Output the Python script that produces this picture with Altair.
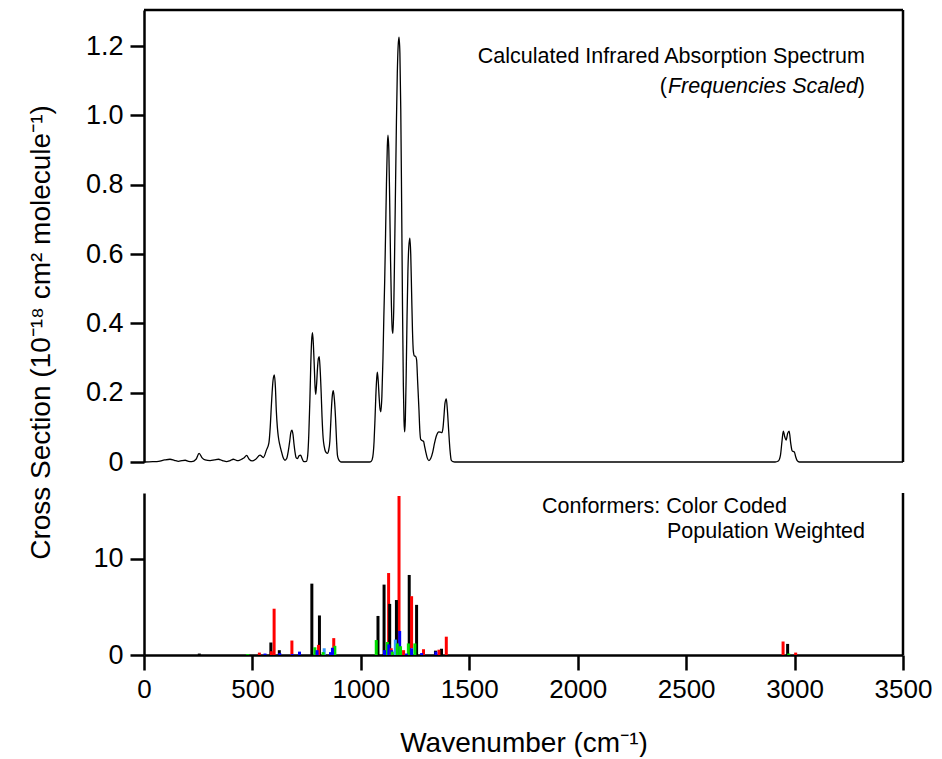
import altair as alt
import pandas as pd

# ---------------- data ----------------
spec_wn = [0, 40, 67, 95, 120, 140, 159, 175, 190, 205, 220, 240, 254, 268, 282, 305, 325, 343, 362, 381,
           397, 412, 425, 435, 450, 462, 473, 485, 499, 515, 535, 550, 565, 576, 582, 588, 595, 601, 606, 610,
           615, 619, 626, 634, 642, 650, 658, 665, 672, 677, 682, 687, 692, 696, 702, 708, 715, 722, 729, 737,
           749, 755, 760, 765, 769, 773, 777, 781, 785, 789, 792, 796, 800, 804, 808, 812, 817, 821, 826, 831,
           837, 846, 852, 857, 861, 864, 869, 873, 878, 883, 888, 892, 897, 903, 910, 1040, 1048, 1055, 1061, 1065,
           1069, 1073, 1076, 1080, 1084, 1088, 1092, 1097, 1102, 1106, 1110, 1114, 1118, 1122, 1125, 1129, 1133, 1137, 1141, 1145,
           1148, 1152, 1156, 1160, 1164, 1168, 1172, 1176, 1180, 1184, 1188, 1192, 1196, 1199, 1202, 1205, 1209, 1213, 1217, 1221,
           1226, 1230, 1234, 1238, 1242, 1247, 1252, 1257, 1262, 1268, 1272, 1276, 1282, 1289, 1294, 1299, 1306, 1314, 1322, 1332,
           1340, 1348, 1355, 1360, 1367, 1374, 1379, 1383, 1388, 1394, 1399, 1405, 1411, 1417, 1425, 1433, 2910, 2925, 2935, 2942,
           2948, 2955, 2961, 2968, 2975, 2982, 2989, 2995, 2999, 3005, 3012, 3022, 3500]
spec_val = [0, 0.001, 0.002, 0.006, 0.008, 0.005, 0.002, 0.004, 0.005, 0.002, 0.001, 0.008, 0.025, 0.012, 0.006, 0.004, 0.006, 0.008, 0.004, 0.001,
            0.004, 0.008, 0.005, 0.004, 0.008, 0.012, 0.019, 0.008, 0.003, 0.008, 0.02, 0.013, 0.035, 0.055, 0.1, 0.17, 0.235, 0.251, 0.215, 0.15,
            0.1, 0.075, 0.05, 0.03, 0.012, 0.005, 0.01, 0.03, 0.06, 0.085, 0.092, 0.08, 0.05, 0.03, 0.012, 0.01, 0.018, 0.02, 0.01, 0.001,
            0.002, 0.02, 0.08, 0.18, 0.28, 0.35, 0.373, 0.34, 0.28, 0.215, 0.195, 0.225, 0.27, 0.298, 0.304, 0.27, 0.2, 0.13, 0.07, 0.045,
            0.03, 0.025, 0.035, 0.06, 0.11, 0.15, 0.195, 0.206, 0.18, 0.13, 0.06, 0.02, 0.008, 0.002, 0, 0, 0.002, 0.015, 0.06, 0.12,
            0.19, 0.24, 0.259, 0.235, 0.19, 0.155, 0.145, 0.19, 0.3, 0.42, 0.525, 0.66, 0.8, 0.91, 0.943, 0.9, 0.75, 0.58, 0.45, 0.38,
            0.371, 0.45, 0.62, 0.8, 0.98, 1.12, 1.2, 1.226, 1.18, 1.02, 0.75, 0.45, 0.22, 0.12, 0.087, 0.12, 0.25, 0.42, 0.55, 0.62,
            0.646, 0.6, 0.49, 0.38, 0.32, 0.306, 0.305, 0.295, 0.23, 0.15, 0.09, 0.065, 0.062, 0.06, 0.045, 0.03, 0.012, 0.004, 0.01, 0.03,
            0.055, 0.075, 0.085, 0.087, 0.086, 0.085, 0.1, 0.13, 0.17, 0.182, 0.15, 0.09, 0.035, 0.005, 0.001, 0, 0, 0.003, 0.02, 0.06,
            0.089, 0.072, 0.063, 0.082, 0.089, 0.055, 0.032, 0.03, 0.029, 0.015, 0.004, 0, 0]

black_wn = [255, 585, 624, 774, 809, 1079, 1107, 1133, 1164, 1223, 1257, 1344, 1372, 2968]
black_val = [0.15, 1.3, 0.5, 7.4, 4.1, 4.05, 7.3, 5.3, 5.7, 8.3, 5.2, 0.45, 0.65, 1.15]
red_wn = [532, 587, 600, 682, 805, 875, 1128, 1140, 1176, 1197, 1234, 1289, 1360, 1394, 2947, 3005]
red_val = [0.25, 0.4, 4.8, 1.5, 1.05, 1.75, 8.5, 0.7, 16.5, 0.5, 5.4, 0.6, 0.55, 1.9, 1.4, 0.25]
green_wn = [478, 788, 826, 880, 1071, 1122, 1145, 1168, 1183, 1219, 1249, 2973]
green_val = [0.1, 0.8, 0.3, 0.95, 1.55, 1.35, 0.35, 1.2, 0.9, 1.2, 1.2, 0.15]
blue_wn = [558, 626, 684, 717, 798, 860, 869, 1109, 1129, 1142, 1179, 1210, 1234, 1280, 1346]
blue_val = [0.15, 0.2, 0.1, 0.35, 0.5, 0.3, 0.75, 0.5, 1.1, 0.5, 2.5, 0.15, 0.7, 0.2, 0.35]
lblue_wn = [831, 1159]
lblue_val = [0.7, 1.6]

conf_names = ["Conformer 1", "Conformer 2", "Conformer 3", "Conformer 4", "Conformer 5"]
conf_colors = ["#000000", "#ff0000", "#00dd00", "#0000ff", "#3399ff"]

x_ticks = [0, 500, 1000, 1500, 2000, 2500, 3000, 3500]
top_ticks = [0, 0.2, 0.4, 0.6, 0.8, 1.0, 1.2]
bottom_ticks = [0, 10]

# ---------------- build tables ----------------
spec = pd.DataFrame({"wn": spec_wn, "val": spec_val})
rows = []
for name, wns, vals in zip(conf_names,
                           [black_wn, red_wn, green_wn, blue_wn, lblue_wn],
                           [black_val, red_val, green_val, blue_val, lblue_val]):
    for w, v in zip(wns, vals):
        rows.append({"wn": w, "val": v, "conf": name})
bars = pd.DataFrame(rows).sort_values("val", ascending=False).reset_index(drop=True)
one = pd.DataFrame({"a": [0]})

W, H1, H2 = 759, 452, 162
FONT = "Liberation Sans"
x_scale = alt.Scale(domain=[0, 3500], nice=False, zero=False, padding=0)

axis_common = dict(domainColor="black", domainWidth=2.5, tickColor="black", tickWidth=2.5,
                   labelColor="black", labelFont=FONT, labelFontSize=27, labelFlush=False,
                   titleColor="black", titleFont=FONT, titleFontSize=28, titleFontWeight="normal",
                   grid=False)

# ---------------- top panel ----------------
line = alt.Chart(spec).mark_line(color="black", strokeWidth=1.3, interpolate="monotone").encode(
    x=alt.X("wn:Q", scale=x_scale, axis=None),
    y=alt.Y("val:Q", scale=alt.Scale(domain=[0, 1.304], nice=False, padding=0),
            axis=alt.Axis(values=top_ticks, tickSize=14, labelPadding=7,
                          labelExpr="datum.value == 0 ? '0' : format(datum.value, '.1f')",
                          title="Cross Section (10⁻¹⁸ cm² molecule⁻¹)",
                          titleX=-95, titleY=322, titleAngle=270, titleBaseline="alphabetic",
                          titleAlign="center", **axis_common)),
)
top_rule = alt.Chart(one).mark_rule(color="black", strokeWidth=2.5).encode(
    x=alt.value(0), x2=alt.value(W), y=alt.value(0))
right_rule1 = alt.Chart(one).mark_rule(color="black", strokeWidth=2.5).encode(
    x=alt.value(W), y=alt.value(0), y2=alt.value(H1))
t1 = alt.Chart(one).mark_text(font=FONT, fontSize=21.5, align="right", baseline="alphabetic", color="black").encode(
    x=alt.value(721), y=alt.value(53), text=alt.value("Calculated Infrared Absorption Spectrum"))
t2a = alt.Chart(one).mark_text(font=FONT, fontSize=21.5, align="right", baseline="alphabetic", color="black").encode(
    x=alt.value(721), y=alt.value(83), text=alt.value(")"))
t2b = alt.Chart(one).mark_text(font=FONT, fontSize=21.5, fontStyle="italic", align="right", baseline="alphabetic", color="black").encode(
    x=alt.value(714), y=alt.value(83), text=alt.value("Frequencies Scaled"))
t2c = alt.Chart(one).mark_text(font=FONT, fontSize=21.5, align="right", baseline="alphabetic", color="black").encode(
    x=alt.value(523), y=alt.value(83), text=alt.value("("))

top = alt.layer(line, top_rule, right_rule1, t1, t2a, t2b, t2c).properties(width=W, height=H1)

# ---------------- bottom panel ----------------
bar = alt.Chart(bars).mark_bar(size=3).encode(
    x=alt.X("wn:Q", scale=x_scale,
            axis=alt.Axis(values=x_ticks, tickSize=15, labelPadding=6, format="d",
                          title="Wavenumber (cm⁻¹)", titlePadding=27,
                          **{**axis_common, "labelFontSize": 26})),
    y=alt.Y("val:Q", scale=alt.Scale(domain=[0, 16.8], nice=False, padding=0),
            axis=alt.Axis(values=bottom_ticks, tickSize=14, labelPadding=7, title=None, **axis_common)),
    color=alt.Color("conf:N", scale=alt.Scale(domain=conf_names, range=conf_colors), legend=None),
)
right_rule2 = alt.Chart(one).mark_rule(color="black", strokeWidth=2.5).encode(
    x=alt.value(W), y=alt.value(0), y2=alt.value(H2))
b1 = alt.Chart(one).mark_text(font=FONT, fontSize=21.5, align="left", baseline="alphabetic", color="black").encode(
    x=alt.value(398), y=alt.value(20), text=alt.value("Conformers: Color Coded"))
b2 = alt.Chart(one).mark_text(font=FONT, fontSize=21.5, align="left", baseline="alphabetic", color="black").encode(
    x=alt.value(523), y=alt.value(45), text=alt.value("Population Weighted"))

bottom = alt.layer(bar, right_rule2, b1, b2).properties(width=W, height=H2)

chart = alt.vconcat(top, bottom, spacing=31, bounds="flush").properties(
    padding={"left": 19, "top": 0, "right": 0, "bottom": 0},
    background="white",
).configure_view(stroke=None)

chart.save("out.html", embed_options={"renderer": "svg", "actions": False})
